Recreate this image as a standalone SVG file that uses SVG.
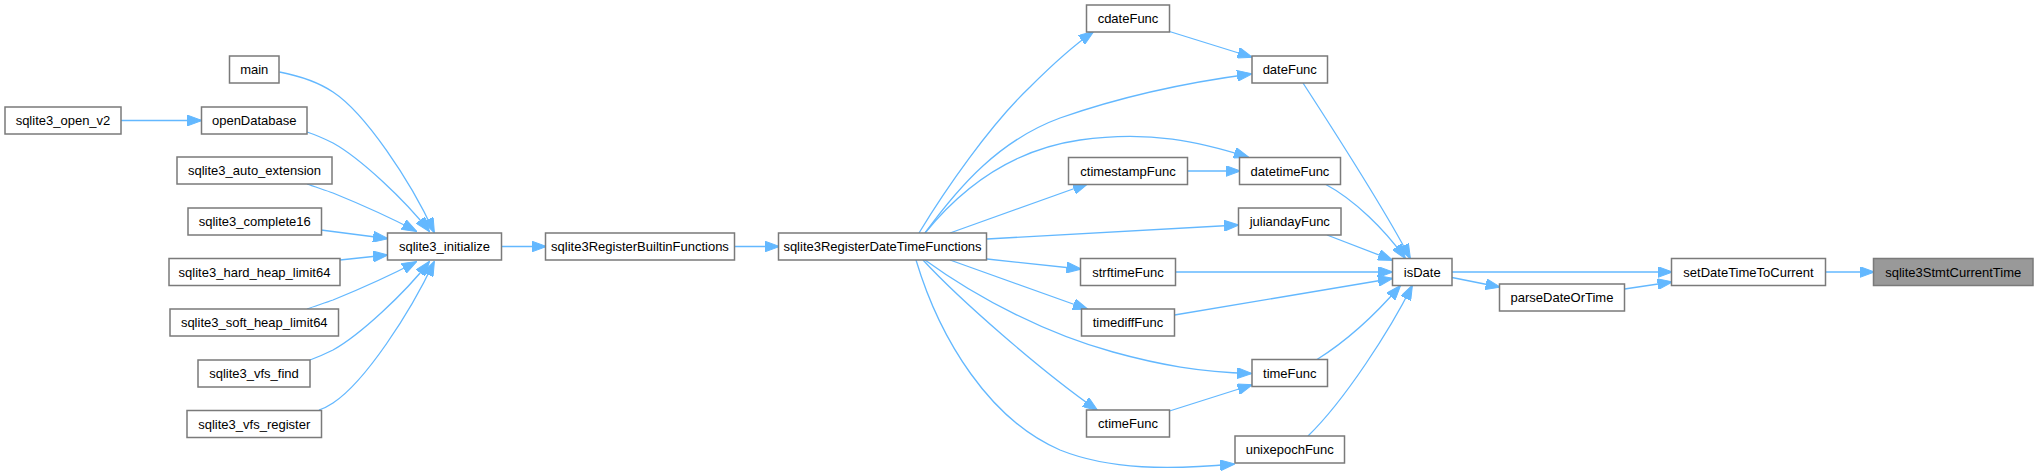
<svg xmlns="http://www.w3.org/2000/svg" width="2038" height="474" viewBox="0 0 2038 474">
<style>
.n rect{fill:#ffffff;stroke:#7a7a7a;stroke-width:1.5}
.n.hl rect{fill:#999999}
.n text{font-family:"Liberation Sans",Arial,sans-serif;font-size:13px;fill:#000000;text-anchor:middle}
.e path{fill:none;stroke:#63b8ff;stroke-width:1.3;marker-end:url(#arr)}
</style>
<defs>
<marker id="arr" markerUnits="userSpaceOnUse" viewBox="0 0 15 11" refX="14" refY="5.5" markerWidth="15" markerHeight="11" orient="auto">
<path d="M0,0 L15,5.5 L0,11 z" fill="#63b8ff" stroke="#63b8ff" stroke-width="1"/>
</marker>
</defs>
<rect width="2038" height="474" fill="#ffffff"/>
<g id="edges" class="e">
<path d="M121,120.5 L201,120.5"/>
<path d="M279.5,72 C300,76 318,82 333,92 C365,113 410,180 434,232"/>
<path d="M307,132 C316,135 325,139 333,143 C360,158 405,200 429,231"/>
<path d="M307,184 C315,187 325,190 333,193 C360,204 395,220 416,231"/>
<path d="M321,230 L387,238.5"/>
<path d="M340,260 L387,255"/>
<path d="M307,309 C315,306 325,303 333,300 C360,289 395,273 416,262"/>
<path d="M310,360 C318,357 325,354 333,350 C360,335 405,293 429,262"/>
<path d="M319,410 C325,408 330,405 333,403 C365,382 410,313 434,262"/>
<path d="M501.5,246.5 L545.5,246.5"/>
<path d="M734.5,246.5 L778.5,246.5"/>
<path d="M919,233 C945,190 990,125 1030,87 C1050,67 1070,48 1093,32"/>
<path d="M925,233 C960,185 1000,140 1060,118 C1120,97 1190,82 1251,74"/>
<path d="M925,233 C960,190 1010,150 1080,140 C1150,130 1200,142 1248,157"/>
<path d="M950,233 L1087,184"/>
<path d="M987,239 L1238,225"/>
<path d="M987,259 L1080.5,269"/>
<path d="M950,260 L1087,309"/>
<path d="M925,260 C980,300 1050,335 1113,352 C1160,365 1200,372 1251,373.5"/>
<path d="M923,260 C960,300 1040,370 1097,410"/>
<path d="M916,260 C940,340 990,420 1060,450 C1110,470 1170,470 1234,464"/>
<path d="M1169.5,31.5 L1251.5,57"/>
<path d="M1187.5,171 L1239.5,171"/>
<path d="M1169.5,411 L1251.5,385"/>
<path d="M1303,83 C1340,140 1385,210 1410,258"/>
<path d="M1325,184 C1355,200 1385,230 1405,258"/>
<path d="M1327,235 L1392,260"/>
<path d="M1175.5,272 L1392,272"/>
<path d="M1174.5,315 L1392,278.5"/>
<path d="M1317,359.5 C1345,342 1375,315 1400,286"/>
<path d="M1308,436 C1345,400 1390,330 1412,286"/>
<path d="M1452,272 L1671.5,272"/>
<path d="M1452,277.5 L1499.5,287"/>
<path d="M1624.5,289 L1671.5,282"/>
<path d="M1825.5,272 L1873.5,272"/>
</g>
<g id="n_sqlite3StmtCurrentTime" class="n hl"><rect x="1873.5" y="258.5" width="159.5" height="27"/><text x="1953.25" y="276.5">sqlite3StmtCurrentTime</text></g>
<g id="n_setDateTimeToCurrent" class="n"><rect x="1671.5" y="258.5" width="154" height="27"/><text x="1748.5" y="276.5">setDateTimeToCurrent</text></g>
<g id="n_isDate" class="n"><rect x="1392.5" y="258.5" width="59.5" height="27"/><text x="1422.25" y="276.5">isDate</text></g>
<g id="n_parseDateOrTime" class="n"><rect x="1499.5" y="284" width="125" height="27"/><text x="1562" y="302">parseDateOrTime</text></g>
<g id="n_dateFunc" class="n"><rect x="1252" y="56" width="75.5" height="27"/><text x="1289.75" y="74">dateFunc</text></g>
<g id="n_cdateFunc" class="n"><rect x="1086.5" y="5" width="83" height="27"/><text x="1128" y="23">cdateFunc</text></g>
<g id="n_datetimeFunc" class="n"><rect x="1239.5" y="157.5" width="101" height="27"/><text x="1290" y="175.5">datetimeFunc</text></g>
<g id="n_ctimestampFunc" class="n"><rect x="1068.5" y="157.5" width="119" height="27"/><text x="1128" y="175.5">ctimestampFunc</text></g>
<g id="n_juliandayFunc" class="n"><rect x="1238.5" y="208" width="102.5" height="27"/><text x="1289.75" y="226">juliandayFunc</text></g>
<g id="n_strftimeFunc" class="n"><rect x="1080.5" y="258.5" width="95" height="27"/><text x="1128" y="276.5">strftimeFunc</text></g>
<g id="n_timediffFunc" class="n"><rect x="1081.5" y="309" width="93" height="27"/><text x="1128" y="327">timediffFunc</text></g>
<g id="n_timeFunc" class="n"><rect x="1252" y="359.5" width="75.5" height="27"/><text x="1289.75" y="377.5">timeFunc</text></g>
<g id="n_ctimeFunc" class="n"><rect x="1086.5" y="410" width="83" height="27"/><text x="1128" y="428">ctimeFunc</text></g>
<g id="n_unixepochFunc" class="n"><rect x="1235" y="436" width="109.5" height="27"/><text x="1289.75" y="454">unixepochFunc</text></g>
<g id="n_sqlite3RegisterDateTimeFunctions" class="n"><rect x="778.5" y="233" width="208" height="27"/><text x="882.5" y="251">sqlite3RegisterDateTimeFunctions</text></g>
<g id="n_sqlite3RegisterBuiltinFunctions" class="n"><rect x="545.5" y="233" width="189" height="27"/><text x="640" y="251">sqlite3RegisterBuiltinFunctions</text></g>
<g id="n_sqlite3_initialize" class="n"><rect x="387.5" y="233" width="114" height="27"/><text x="444.5" y="251">sqlite3_initialize</text></g>
<g id="n_main" class="n"><rect x="229.5" y="56" width="49.5" height="27"/><text x="254.25" y="74">main</text></g>
<g id="n_openDatabase" class="n"><rect x="201.5" y="107" width="105.5" height="27"/><text x="254.25" y="125">openDatabase</text></g>
<g id="n_sqlite3_open_v2" class="n"><rect x="5" y="107" width="116" height="27"/><text x="63" y="125">sqlite3_open_v2</text></g>
<g id="n_sqlite3_auto_extension" class="n"><rect x="177" y="157" width="155" height="27"/><text x="254.5" y="175">sqlite3_auto_extension</text></g>
<g id="n_sqlite3_complete16" class="n"><rect x="188" y="208" width="133.5" height="27"/><text x="254.75" y="226">sqlite3_complete16</text></g>
<g id="n_sqlite3_hard_heap_limit64" class="n"><rect x="169" y="258.5" width="171" height="27"/><text x="254.5" y="276.5">sqlite3_hard_heap_limit64</text></g>
<g id="n_sqlite3_soft_heap_limit64" class="n"><rect x="170" y="309" width="168.5" height="27"/><text x="254.25" y="327">sqlite3_soft_heap_limit64</text></g>
<g id="n_sqlite3_vfs_find" class="n"><rect x="198" y="360" width="112" height="27"/><text x="254" y="378">sqlite3_vfs_find</text></g>
<g id="n_sqlite3_vfs_register" class="n"><rect x="187" y="410.5" width="134.5" height="27"/><text x="254.25" y="428.5">sqlite3_vfs_register</text></g>
</svg>
